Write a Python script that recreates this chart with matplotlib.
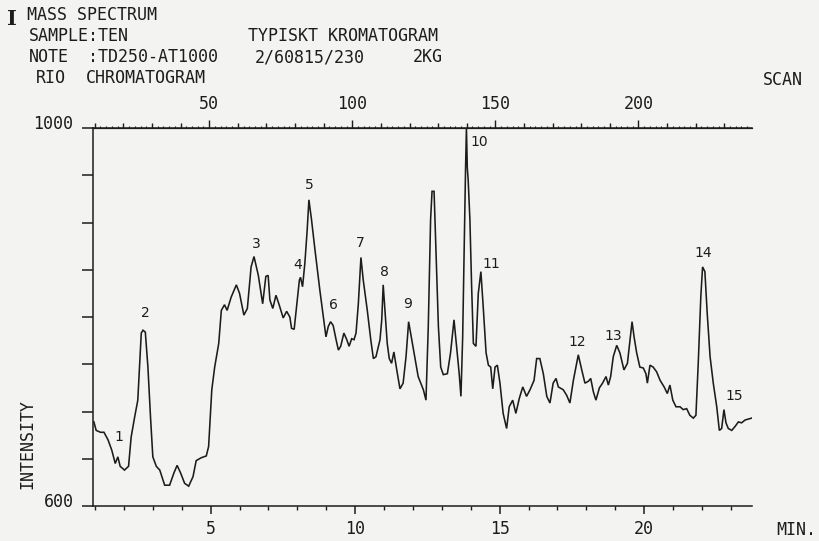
import matplotlib
matplotlib.use('Agg')
import matplotlib.pyplot as plt
import matplotlib.transforms as mtransforms
from matplotlib.ticker import MultipleLocator, FixedLocator

# retention time (min) and total ion intensity
minutes = [
    0.96, 1.04, 1.19, 1.31, 1.45, 1.58, 1.70, 1.79, 1.87, 2.02,
    2.16, 2.25, 2.37, 2.48, 2.60, 2.66, 2.74, 2.83, 2.92, 3.00,
    3.12, 3.24, 3.41, 3.58, 3.73, 3.84, 3.96, 4.10, 4.24, 4.39,
    4.50, 4.67, 4.85, 4.93, 5.04, 5.14, 5.28, 5.37, 5.48, 5.57,
    5.71, 5.89, 6.00, 6.15, 6.27, 6.40, 6.50,
    6.65, 6.80, 6.91, 6.99, 7.05, 7.15, 7.26, 7.37, 7.51, 7.63,
    7.74, 7.80, 7.89, 7.98, 8.07, 8.11, 8.18, 8.26, 8.34, 8.40,
    8.49, 8.61, 8.78, 8.90, 8.99, 9.07, 9.15, 9.24, 9.34, 9.42,
    9.50, 9.61, 9.71, 9.79, 9.88, 9.96, 10.03, 10.11, 10.20, 10.28,
    10.42, 10.54, 10.63, 10.72, 10.86, 10.92, 10.97, 11.03, 11.11, 11.18,
    11.26, 11.34, 11.44, 11.55, 11.66, 11.76, 11.85,
    12.01, 12.18, 12.36, 12.45, 12.53, 12.61, 12.66, 12.73, 12.80, 12.88,
    12.96, 13.05, 13.19, 13.30, 13.42, 13.51, 13.60, 13.66, 13.72, 13.78,
    13.82, 13.85, 13.88, 13.91, 13.97, 14.03, 14.09, 14.18, 14.26, 14.35,
    14.43, 14.53, 14.61, 14.69, 14.76, 14.84, 14.92, 15.01, 15.12, 15.24,
    15.33, 15.45, 15.56, 15.68, 15.80, 15.93, 16.05, 16.19, 16.28, 16.39,
    16.51, 16.63, 16.74, 16.85, 16.95, 17.03, 17.20, 17.32, 17.43, 17.55,
    17.72, 17.84, 17.95, 18.07, 18.15, 18.24, 18.33, 18.45, 18.56, 18.68,
    18.76, 18.84, 18.93, 19.05, 19.16, 19.30, 19.42, 19.51, 19.58, 19.65,
    19.74, 19.85, 19.97, 20.06, 20.11, 20.20, 20.31, 20.43, 20.55, 20.69,
    20.80, 20.89, 20.99, 21.10, 21.24, 21.35, 21.47, 21.58, 21.70, 21.79,
    21.87, 21.96, 22.02, 22.10, 22.18, 22.28, 22.39, 22.51, 22.60, 22.68,
    22.76, 22.83, 22.91, 23.03, 23.14, 23.26, 23.37, 23.49, 23.60, 23.72,
]
intensity = [
    689, 680, 678, 678, 670, 659, 645, 652, 642, 638,
    642, 673, 694, 712, 783, 786, 784, 747, 694, 652,
    642, 638, 622, 622, 635, 643, 635, 624, 621, 631,
    648, 651, 653, 663, 723, 747, 772, 807, 813, 807,
    821, 834, 825, 802, 809, 853, 864,
    844, 814, 843, 844, 818, 809, 823, 813, 799, 806,
    800, 788, 787, 813, 839, 842, 832, 857, 892, 924,
    903, 871, 828, 800, 779, 790, 795, 791, 776, 765,
    769, 783, 776, 769, 777, 776, 783, 814, 863, 839,
    807, 776, 756, 758, 776, 797, 834, 807, 772, 756,
    751, 763, 744, 724, 730, 758, 795,
    767, 737, 723, 712, 790, 903, 933, 933, 867, 790,
    747, 739, 740, 762, 797, 769, 740, 716, 779, 885,
    958, 1000, 958, 945, 903, 832, 772, 769, 825, 848,
    811, 762, 749, 747, 724, 747, 749, 730, 698, 682,
    705, 712, 698, 714, 726, 716, 723, 733, 756, 756,
    740, 716, 709, 730, 735, 726, 723, 717, 709, 733,
    760, 744, 730, 732, 735, 721, 712, 725, 730, 737,
    728, 737, 758, 770, 762, 744, 751, 776, 795, 779,
    762, 747, 746, 740, 730, 749, 747, 742, 733, 726,
    719, 728, 712, 705, 705, 702, 703, 696, 693, 696,
    751, 822, 853, 848, 804, 758, 730, 705, 680, 682,
    702, 688, 682, 680, 684, 689, 688, 691, 692, 693,
]

# peak numbers written by hand and where they sit
peak_ids = [str(i) for i in range(1, 16)]
peak_min = [1.83, 2.73, 6.57, 8.02, 8.40, 9.24, 10.17, 11.03, 11.83, 14.28,
            14.70, 17.68, 18.92, 22.04, 23.11]
peak_int = [673, 804, 877, 855, 940, 813, 878, 848, 814, 985,
            856, 774, 780, 868, 716]

min_ticks = [5, 10, 15, 20]
scan_ticks = [50, 100, 150, 200]
scan_per_min = 10.1

bg = '#f3f3f1'
ink = '#1c1c1c'
mono = 'DejaVu Sans Mono'

fig = plt.figure(figsize=(8.19, 5.41), dpi=100, facecolor=bg)
W, H = 819.0, 541.0
ax = fig.add_axes([93 / W, 35 / H, 659 / W, 378 / H])
ax.set_facecolor(bg)

ax.plot(minutes, intensity, color=ink, lw=1.15, solid_joinstyle='miter')
ax.set_xlim(0.93, 23.73)
ax.set_ylim(600, 1000)

ax.spines['right'].set_visible(False)
for s in ['left', 'bottom', 'top']:
    ax.spines[s].set_color(ink)
    ax.spines[s].set_linewidth(1.1)

# bottom minute axis
ax.xaxis.set_major_locator(FixedLocator(min_ticks))
ax.xaxis.set_minor_locator(MultipleLocator(1))
ax.set_xticklabels([str(m) for m in min_ticks], family=mono, size=12, color=ink)
ax.tick_params(axis='x', which='major', length=6, width=1.1, color=ink, pad=4)
ax.tick_params(axis='x', which='minor', length=3, width=1.0, color=ink)

# left intensity axis
ax.set_yticks([600, 650, 700, 750, 800, 850, 900, 950, 1000])
ax.set_yticklabels(['600', '', '', '', '', '', '', '', '1000'], family=mono, size=12, color=ink)
ax.tick_params(axis='y', length=8, width=1.1, color=ink, pad=6)
shift = mtransforms.ScaledTranslation(0, 6 / 100, fig.dpi_scale_trans)
for lab in ax.get_yticklabels():
    lab.set_transform(lab.get_transform() + shift)

# top scan axis
sec = ax.secondary_xaxis('top', functions=(lambda t: t * scan_per_min, lambda s: s / scan_per_min))
sec.set_xticks(scan_ticks)
sec.set_xticklabels([str(s) for s in scan_ticks], family=mono, size=12, color=ink)
sec.xaxis.set_minor_locator(MultipleLocator(10))
sec.tick_params(which='major', length=6, width=1.0, color=ink, pad=5)
sec.tick_params(which='minor', length=3.5, width=1.0, color=ink)
sec.spines['top'].set_color(ink)

sec2 = ax.secondary_xaxis('top', functions=(lambda t: t * scan_per_min, lambda s: s / scan_per_min))
sec2.xaxis.set_major_locator(MultipleLocator(2))
sec2.tick_params(which='major', length=1.6, width=0.8, color=ink, labeltop=False)
sec2.spines['top'].set_color(ink)

for lab, x, y in zip(peak_ids, peak_min, peak_int):
    ax.text(x, y, lab, ha='center', va='center', size=10, color=ink, family='DejaVu Sans')

# header printed by the data system
def ftext(x, y, s, **kw):
    fig.text(x / W, 1 - y / H, s, va='center', color=ink, **kw)

ftext(7, 19, 'I', family='DejaVu Serif', weight='bold', size=15)
ftext(27, 15, 'MASS SPECTRUM', family=mono, size=12)
ftext(29, 36, 'SAMPLE:TEN', family=mono, size=12)
ftext(248, 36, 'TYPISKT KROMATOGRAM', family=mono, size=12)
ftext(29, 57, 'NOTE', family=mono, size=12)
ftext(88, 57, ':TD250-AT1000', family=mono, size=12)
ftext(255, 57, '2/60815/230', family=mono, size=12)
ftext(413, 57, '2KG', family=mono, size=12)
ftext(36, 78, 'RIO', family=mono, size=12)
ftext(86, 78, 'CHROMATOGRAM', family=mono, size=12)
ftext(763, 80, 'SCAN', family=mono, size=12)
ftext(776, 530, 'MIN.', family=mono, size=12)
fig.text(27 / W, 1 - 444 / H, 'INTENSITY', rotation=90, ha='center', va='center',
         family=mono, size=12, color=ink)

fig.savefig('out.png', dpi=100, facecolor=bg)
